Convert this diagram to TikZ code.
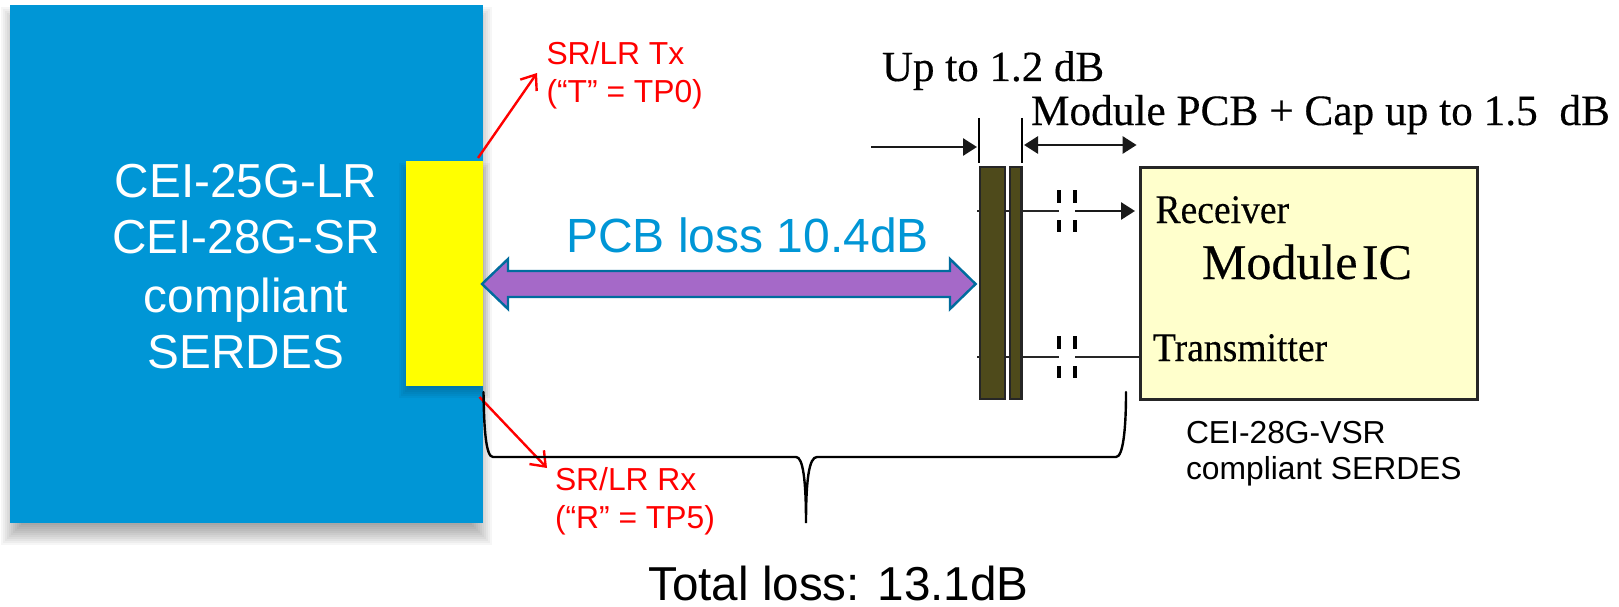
\documentclass[tikz,border=0pt]{standalone}
\usepackage{fontspec}
\setmainfont{Liberation Sans}
\newfontfamily\serifbody[FakeBold=0.35]{Liberation Serif}
\usetikzlibrary{arrows.meta}
\definecolor{serdesblue}{HTML}{0096D6}
\definecolor{losspurple}{HTML}{A569C8}
\definecolor{lossedge}{HTML}{006C9E}
\definecolor{barolive}{HTML}{4E4A1B}
\definecolor{icyellow}{HTML}{FFFFCC}
\definecolor{tpyellow}{HTML}{FFFF00}
\newcommand{\softshadow}[6]{% left top right bottom layers step
  \foreach \k in {1,...,#5}{
    \fill[black,opacity=.034] ({#1+\k*#6},{#2+\k*#6}) rectangle ({#3-\k*#6},{#4-\k*#6});
  }}
\tikzset{
  x=1pt,y=-1pt,
  lbl/.style={anchor=base west,inner sep=0pt,outer sep=0pt},
  ctr/.style={anchor=base,inner sep=0pt,outer sep=0pt},
  sans47/.style={font=\fontsize{47.7}{50}\selectfont},
  sans31/.style={font=\fontsize{31.8}{34}\selectfont},
  redtxt/.style={lbl,sans31,text=red},
  serif41/.style={font=\serifbody\fontsize{43}{46}\selectfont},
  serif37/.style={font=\serifbody\fontsize{37.6}{40}\selectfont},
  redarrow/.style={draw=red,line width=2.4pt,-{Straight Barb[length=13pt,width=20pt,line width=2.4pt]}},
  blackarrow/.style={draw=black!90,line width=2.8pt,-{Triangle[length=14pt,width=17pt]}},
  tick/.style={draw=black,line width=2.6pt},
  wire/.style={draw=black!85,line width=2.8pt},
  plate/.style={draw=black,line width=3.8pt},
  barbox/.style={draw=black!85,line width=2.6pt,fill=barolive,inner sep=0pt,outer sep=0pt,anchor=north west},
  bracket/.style={draw=black,line width=2.4pt,line cap=round},
}
\begin{document}
\begin{tikzpicture}
\useasboundingbox (0,0) rectangle (1619,607);
\fill[white] (0,0) rectangle (1619,607);
% main block with its soft shadow
\softshadow{-1}{5}{494}{547}{11}{2}
\node[fill=serdesblue,inner sep=0pt,outer sep=0pt,anchor=north west,minimum width=473pt,minimum height=518pt] (serdes) at (10,5) {};
\softshadow{397}{161}{492}{400}{7}{2}
\node[fill=tpyellow,inner sep=0pt,outer sep=0pt,anchor=north west,minimum width=77pt,minimum height=225pt] (tp) at (406,161) {};
% left block text
\node[ctr,sans47,text=white] (t1) at (246,197) {CEI-25G-LR};
\node[ctr,sans47,text=white] (t2) at (246,253) {CEI-28G-SR};
\node[ctr,sans47,text=white] (t3) at (246,312) {compliant};
\node[ctr,sans47,text=white] (t4) at (246,368) {SERDES};
% red test point labels
\coordinate (txfrom) at (478,158);
\coordinate (txto) at (537,73);
\coordinate (rxfrom) at (479.5,397);
\coordinate (rxto) at (547,468);
\draw[redarrow] (txfrom) -- (txto);
\draw[redarrow] (rxfrom) -- (rxto);
\node[redtxt] (txa) at (546.5,65) {SR/LR Tx};
\node[redtxt] (txb) at (546.5,103) {(“T” = TP0)};
\node[redtxt] (rxa) at (555,490) {SR/LR Rx};
\node[redtxt] (rxb) at (555,528) {(“R” = TP5)};
% PCB loss
\draw[draw=lossedge,fill=losspurple,line width=2.4pt,line join=miter]
  (482,284) -- (508,259) -- (508,271) -- (950,271) -- (950,259) -- (975.6,284)
  -- (950,309) -- (950,297) -- (508,297) -- (508,309) -- cycle;
\node[ctr,font=\fontsize{48}{50}\selectfont,text=serdesblue] (pcb) at (747.5,252) {PCB loss 10.4dB};
% brace
\coordinate (brl) at (483.5,392);
\coordinate (brr) at (1126,392);
\coordinate (brm) at (806,523);
\draw[bracket] (brl) .. controls (484,430) and (486,457) .. (493,457)
  -- (796,457) .. controls (803,457) and (806,480) .. (brm)
  .. controls (806,480) and (809,457) .. (817,457)
  -- (1116,457) .. controls (1123,457) and (1126,430) .. (brr);
\node[ctr,font=\fontsize{47.6}{50}\selectfont] (total) at (838.5,600) {Total loss: 13.1dB};
% connector bars
\node[barbox,minimum width=25pt,minimum height=232pt] (bara) at (980,167) {};
\node[barbox,minimum width=11.5pt,minimum height=232pt] (barb) at (1010,167) {};
% module IC
\node[draw=black!85,line width=3pt,fill=icyellow,inner sep=0pt,outer sep=0pt,anchor=north west,minimum width=337pt,minimum height=232pt] (ic) at (1140,167) {};
\node[lbl,serif37] (rcv) at (1155.5,223) {\scalebox{1}[1.08]{Receiver}};
\node[lbl,serif37] (trn) at (1153,361) {\scalebox{1}[1.08]{Transmitter}};
\node[ctr,font=\serifbody\fontsize{50}{54}\selectfont] (mic) at (1307,279) {Module\hspace{.09em}IC};
\node[lbl,sans31] (vsra) at (1186,443) {CEI-28G-VSR};
\node[lbl,sans31] (vsrb) at (1186,479) {compliant SERDES};
% dimension marks
\coordinate (ticka1) at (979,118);
\coordinate (ticka2) at (979,163);
\coordinate (tickb1) at (1022,118);
\coordinate (tickb2) at (1022,163);
\draw[tick] (ticka1) -- (ticka2);
\draw[tick] (tickb1) -- (tickb2);
\coordinate (dima) at (871,147);
\coordinate (dimb) at (977,147);
\draw[blackarrow] (dima) -- (dimb);
\coordinate (dimc) at (1024,145);
\coordinate (dimd) at (1136.6,145);
\draw[blackarrow,{Triangle[length=14pt,width=17pt]}-{Triangle[length=14pt,width=17pt]}] (dimc) -- (dimd);
\node[lbl,serif41] (up) at (882,81) {Up to 1.2 dB};
\node[lbl,font=\serifbody\fontsize{43.3}{46}\selectfont] (mod) at (1031,125) {Module PCB + Cap up to 1.5\ \ dB};
% signal wires with AC caps
\foreach \yy/\nm in {211/r,357/t}{
  \coordinate (w\nm a) at (977,\yy);
  \coordinate (w\nm b) at (1059,\yy);
  \coordinate (w\nm c) at (1075,\yy);
  \draw[wire] (w\nm a) -- ++(3,0);
  \draw[wire] (1005,\yy) -- (1010,\yy);
  \draw[wire] (1021,\yy) -- (w\nm b);
  \draw[plate] (1059,\yy-21) -- (1059,\yy-8);
  \draw[plate] (1059,\yy+9) -- (1059,\yy+21);
  \draw[plate] (1075,\yy-21) -- (1075,\yy-8);
  \draw[plate] (1075,\yy+9) -- (1075,\yy+21);
}
\draw[blackarrow] (wrc) -- (1135,211);
\draw[wire] (wtc) -- (ic.west |- wtc);
\end{tikzpicture}
\end{document}
